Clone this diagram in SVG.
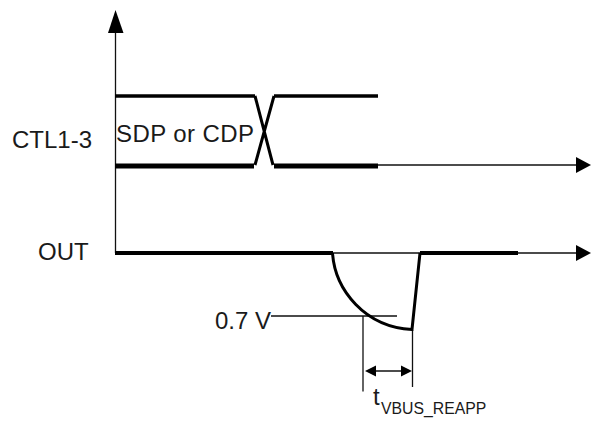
<svg xmlns="http://www.w3.org/2000/svg" width="591" height="421" viewBox="0 0 591 421">
<style>
.thin{fill:none;stroke:#111;stroke-width:1.3}
.thick{fill:none;stroke:#000;stroke-width:4}
.mid{fill:none;stroke:#000;stroke-width:3}
.head{fill:#000}
text{font-family:"Liberation Sans",Arial,sans-serif;fill:#1a1a1a}
.l{font-size:24px}
</style>
<rect width="591" height="421" fill="#fff"/>
<g id="connectors">
<path class="thin" d="M115.500 30V253"/>
<polygon class="head" points="115.500,10 108,33 123.500,33"/>
<path class="thin" d="M378 165H578"/>
<polygon class="head" points="591,165 576,157 576,173"/>
<path class="thin" d="M332 253H420M518 253H578"/>
<polygon class="head" points="591,253 576,245 576,261"/>
<path class="thin" d="M271 316H397M363 316V391.500M412.500 330V387"/>
<path class="thin" d="M372 371H405"/>
<polygon class="head" points="365,371 376,365.500 376,376.500"/>
<polygon class="head" points="412,371 401,365.500 401,376.500"/>
</g>
<g id="ctl-signal">
<path class="thick" style="stroke-width:3.500" d="M115 96H255"/>
<path class="thick" style="stroke-width:3.500" d="M274 96H378"/>
<path class="thick" style="stroke-width:5" d="M115 166H254"/>
<path class="thick" style="stroke-width:5" d="M274 166H378"/>
<path class="mid" d="M255 96L273 165M274 96L255 165"/>
</g>
<g id="out-signal">
<path class="thick" d="M115 253H333"/>
<path class="thick" d="M420 253H518"/>
<path class="mid" d="M332.500 253C335 290 365 327 412 329.500L420 253"/>
</g>
<g id="label-ctl"><text class="l" x="12" y="148">CTL1-3</text></g>
<g id="label-state"><text class="l" x="116" y="142" textLength="138">SDP or CDP</text></g>
<g id="label-out"><text class="l" x="38" y="260">OUT</text></g>
<g id="label-v"><text class="l" x="215" y="329">0.7 V</text></g>
<g id="label-t"><text x="373" y="405" font-size="24">t</text><text x="381" y="414" font-size="15.800">VBUS_REAPP</text></g>
</svg>
